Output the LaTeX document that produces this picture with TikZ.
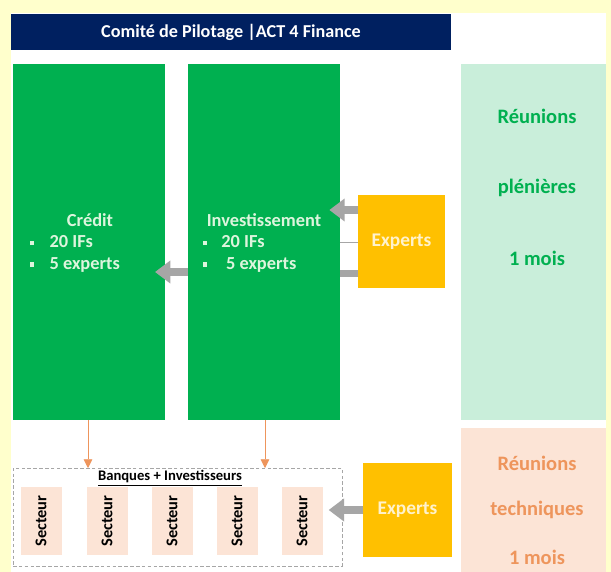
\documentclass[tikz,border=0pt]{standalone}
\usepackage{fontspec}
\setmainfont{Carlito}
\usetikzlibrary{arrows.meta}

\definecolor{pagebg}{HTML}{FFFFCC}
\definecolor{navy}{HTML}{002060}
\definecolor{actgreen}{HTML}{00B050}
\definecolor{mintbg}{HTML}{C9EEDA}
\definecolor{peachbg}{HTML}{FCE4D6}
\definecolor{amber}{HTML}{FFC000}
\definecolor{softgray}{HTML}{A6A6A6}
\definecolor{rust}{HTML}{EE955C}
\definecolor{palegreen}{HTML}{DDF5DD}
\definecolor{cream}{HTML}{FFF2CC}

\tikzset{
  box/.style={inner sep=0pt, outer sep=0pt, font=\bfseries},
  greenbox/.style={box, fill=actgreen},
  expertbox/.style={box, fill=amber, text=cream, font=\bfseries\fontsize{16.5}{18}\selectfont},
  sectorbox/.style={box, fill=peachbg, minimum width={41*0.3mm}, minimum height={68*0.3mm}},
  boxtext/.style={text=palegreen, font=\bfseries\fontsize{15.7}{18}\selectfont, inner sep=0pt},
  sidetext/.style={font=\bfseries\fontsize{17.5}{20}\selectfont, inner sep=0pt},
  grayarrow/.style={draw=softgray, line width={8*0.3mm}, -{Triangle[length=4.6mm, width=6.6mm]}},
  orangearrow/.style={draw=rust, line width=0.5pt, -{Triangle[length=2.6mm, width=2.6mm]}}
}
\newcommand{\sqb}{\rule[2.5pt]{3.5pt}{3.5pt}}

\begin{document}
\begin{tikzpicture}[x=0.3mm, y=-0.3mm]

\fill[pagebg] (0,0) rectangle (611,572);
\useasboundingbox (0,0) rectangle (611,572);
\fill[white] (11,13) rectangle (606,572);

% title bar
\node[box, fill=navy, text=white, minimum width={440*0.3mm}, minimum height={36*0.3mm},
  font=\bfseries\fontsize{15.5}{18}\selectfont] (title) at (231,32) {Comité de Pilotage |ACT 4 Finance};

% main blocks
\node[greenbox, minimum width={152*0.3mm}, minimum height={356*0.3mm}] (credit) at (89,242) {};
\node[greenbox, minimum width={152*0.3mm}, minimum height={356*0.3mm}] (invest) at (264,242) {};
\node[box, fill=mintbg, minimum width={145*0.3mm}, minimum height={356*0.3mm}] (pleniere) at (533.5,242) {};
\node[box, fill=peachbg, minimum width={145*0.3mm}, minimum height={144*0.3mm}] (technique) at (533.5,500) {};

\node[boxtext] (creditlbl) at (90,220) {Crédit};
\node[boxtext, anchor=west] (creditif) at (30,242) {\sqb\hspace{13pt}20 IFs};
\node[boxtext, anchor=west] (creditexp) at (30,265) {\sqb\hspace{13pt}5 experts};
\node[boxtext] (investlbl) at (264,220) {Investissement};
\node[boxtext, anchor=west] (investif) at (203,242) {\sqb\hspace{12pt}20 IFs};
\node[boxtext, anchor=west] (investexp) at (203,265) {\sqb\hspace{16pt}5 experts};

\node[sidetext, text=actgreen] (plen1) at (537,116) {Réunions};
\node[sidetext, text=actgreen] (plen2) at (537,188) {plénières};
\node[sidetext, text=actgreen] (plen3) at (537,258) {1 mois};
\node[sidetext, text=rust] (tech1) at (537,463) {Réunions};
\node[sidetext, text=rust] (tech2) at (537,510) {techniques};
\node[sidetext, text=rust] (tech3) at (537,557) {1 mois};

% experts
\node[expertbox, minimum width={87*0.3mm}, minimum height={93*0.3mm}] (exptop) at (401.5,241.5) {Experts};
\node[expertbox, minimum width={89*0.3mm}, minimum height={94*0.3mm}] (expbot) at (407.5,510) {Experts};

% banques + investisseurs
\node[box, draw=softgray, densely dashed, line width=0.6pt, minimum width={329*0.3mm}, minimum height={98*0.3mm}] (banques) at (177.5,517) {};
\node[inner sep=0pt, font=\bfseries\fontsize{12.5}{14}\selectfont] (banqueslbl) at (170,478) {\underline{Banques + Investisseurs}};
\foreach \sx [count=\i] in {41,107,172,237,302}
  \node[sectorbox] (sect\i) at (\sx,521) {\rotatebox{90}{\fontsize{14}{16}\selectfont\bfseries Secteur}};

% arrows
\draw[grayarrow, shorten >=-3.2mm] (exptop.west |- 0,210) -- (invest.east |- 0,210);
\draw[draw=softgray, line width=0.6pt] (exptop.west |- 0,242) -- (invest.east |- 0,242);
\draw[draw=softgray, line width={7*0.3mm}] (exptop.west |- 0,274) -- (invest.east |- 0,274);
\draw[grayarrow, shorten >=-3mm] (invest.west |- 0,272) -- (credit.east |- 0,272);
\draw[grayarrow, shorten >=-4mm] (expbot.west) -- (banques.east |- expbot.west);
\draw[orangearrow] (credit.south -| 88,0) -- (banques.north -| 88,0);
\draw[orangearrow] (invest.south -| 265,0) -- (banques.north -| 265,0);

\end{tikzpicture}
\end{document}
